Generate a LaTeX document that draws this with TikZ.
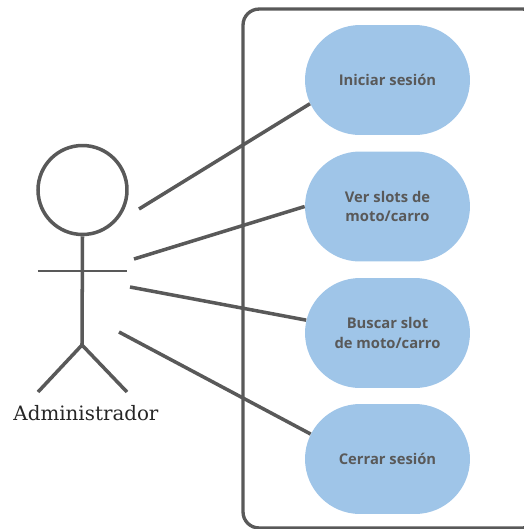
\documentclass[tikz,border=0pt]{standalone}
\usepackage{fontspec}
\usepackage{xcolor}
\usetikzlibrary{shapes.misc}
\setmainfont{Open Sans}
\newfontfamily\actorfont{DejaVu Serif}
\definecolor{scheme}{HTML}{9FC5E8}
\definecolor{trazo}{HTML}{595959}
\tikzset{
	caso/.style={rounded rectangle,fill=scheme,minimum width=3.3cm,minimum height=2.2cm,inner sep=0pt,align=center,text=trazo,font=\fontsize{8.4}{11}\selectfont\bfseries},
	linea/.style={color=trazo,line width=2pt},
}

\begin{document}
\begin{tikzpicture}[x=0.02cm,y=-0.02cm]
	\useasboundingbox (0,0) rectangle (524,529);
	\clip (0,0) rectangle (524,529);

	\coordinate (c1) at (387.5,80);
	\coordinate (c2) at (387.5,206.5);
	\coordinate (c3) at (387.5,333);
	\coordinate (c4) at (387.5,459);
	\coordinate (a1) at (139,209);
	\coordinate (a2) at (134,259);
	\coordinate (a3) at (130,287);
	\coordinate (a4) at (119,332);
	\coordinate (hombro1) at (38,271);
	\coordinate (hombro2) at (127,271);
	\coordinate (cadera) at (82,345);
	\coordinate (pie1) at (38,392);
	\coordinate (pie2) at (127,392);

	\node (sistema) at (391,268.5) [draw=trazo,line width=1.9pt,rounded corners=0.32cm,minimum width=5.92cm,minimum height=10.38cm] {};

	\node (uc1) at (c1) [caso] {Iniciar sesión};
	\node (uc2) at (c2) [caso] {Ver slots de\\moto/carro};
	\node (uc3) at (c3) [caso] {Buscar slot\\de moto/carro};
	\node (uc4) at (c4) [caso] {Cerrar sesión};

	\draw[linea] (a1) -- (uc1.197);
	\draw[linea] (a2) -- (uc2.180);
	\draw[linea] (a3) -- (uc3.171);
	\draw[linea] (a4) -- (uc4.162);

	\node (cabeza) at (82.5,190) [circle,draw=trazo,line width=2pt,minimum size=1.78cm] {};
	\draw[linea] (cabeza.south) -- (cadera);
	\draw[linea] (pie1) -- (cadera) -- (pie2);
	\draw[color=trazo,line width=1.1pt] (hombro1) -- (hombro2);

	\node (actor) at (86,413) [font=\actorfont\fontsize{11.3}{13}\selectfont,text=black!85] {Administrador};
\end{tikzpicture}
\end{document}
